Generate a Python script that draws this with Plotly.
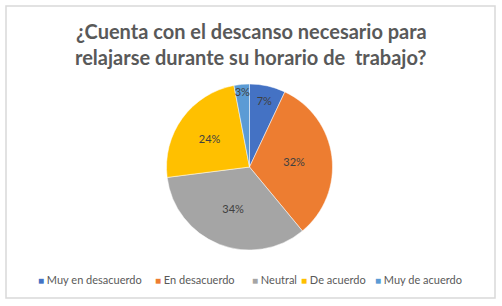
import plotly.graph_objects as go

categories = ["Muy en desacuerdo", "En desacuerdo", "Neutral", "De acuerdo", "Muy de acuerdo"]
values = [7, 32, 34, 24, 3]
colors = ["#4472C4", "#ED7D31", "#A5A5A5", "#FFC000", "#5B9BD5"]
title_lines = ["¿Cuenta con el descanso necesario para", "relajarse durante su horario de  trabajo?"]

W, H = 502, 306
legend_x_px = [36, 153, 250, 299, 373]   # layout: left edge of each legend entry

fig = go.Figure(go.Pie(
    labels=categories,
    values=values,
    marker=dict(colors=colors, line=dict(color="white", width=0.5)),
    sort=False,
    direction="clockwise",
    rotation=0,
    textinfo="percent",
    texttemplate="%{percent:.0%}",
    textposition="inside",
    insidetextorientation="horizontal",
    textfont=dict(family="Lato", size=11, color="#404040"),
    domain=dict(x=[166 / W, 333 / W], y=[1 - 250 / H, 1 - 84 / H]),
    hoverinfo="label+percent",
    showlegend=False,
))

annotations = [
    dict(text=title_lines[0], x=0.5, y=1 - 31 / H, xref="paper", yref="paper",
         xanchor="center", yanchor="middle", showarrow=False,
         font=dict(family="Lato", size=20, color="#595959", weight="bold")),
    dict(text=title_lines[1], x=0.5, y=1 - 57 / H, xref="paper", yref="paper",
         xanchor="center", yanchor="middle", showarrow=False,
         font=dict(family="Lato", size=20, color="#595959", weight="bold")),
]
for cat, col, lx in zip(categories, colors, legend_x_px):
    annotations.append(dict(
        text=f"<span style='color:{col};font-size:10px'>■</span> {cat}",
        x=lx / W, y=1 - 279 / H, xref="paper", yref="paper",
        xanchor="left", yanchor="middle", showarrow=False,
        font=dict(family="Lato", size=11, color="#595959"),
    ))

fig.update_layout(
    width=W, height=H,
    margin=dict(l=0, r=0, t=0, b=0),
    paper_bgcolor="white",
    plot_bgcolor="white",
    showlegend=False,
    uniformtext=dict(minsize=11, mode="show"),
    shapes=[dict(type="rect", xref="paper", yref="paper",
                 x0=6 / W, x1=495 / W, y0=1 - 298 / H, y1=1 - 6 / H,
                 line=dict(color="#D9D9D9", width=1.5), fillcolor="rgba(0,0,0,0)")],
    annotations=annotations,
)

fig.write_html("out.html", config={"displayModeBar": False},
               post_script="document.body.style.margin='0';document.body.style.overflow='hidden';")
